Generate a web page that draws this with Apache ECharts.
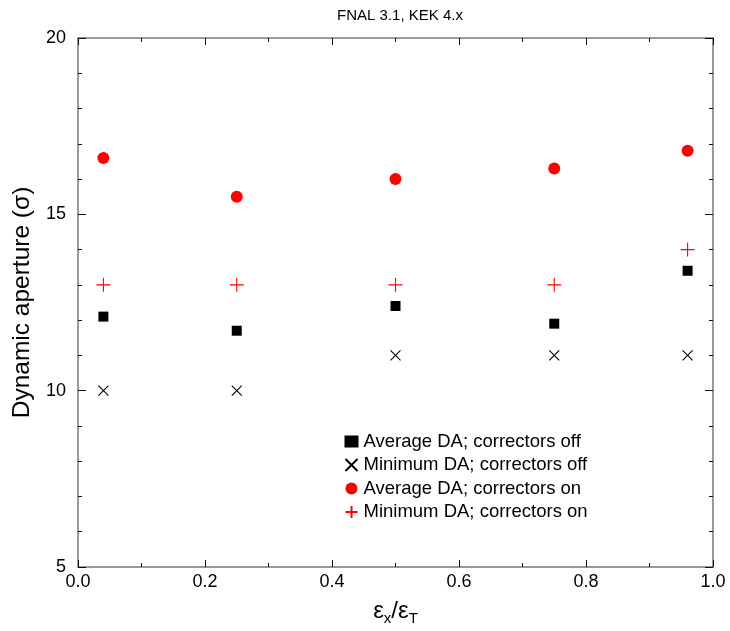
<!DOCTYPE html>
<html><head><meta charset="utf-8">
<script src="https://cdn.jsdelivr.net/npm/echarts@6/dist/echarts.min.js"></script>
<style>html,body{margin:0;padding:0;background:#fff}#c{width:730px;height:631px}</style>
</head><body><div id="c"></div>
<script>
const xValues = [0.04, 0.25, 0.5, 0.75, 0.96];
const avgOff = [12.1, 11.7, 12.4, 11.9, 13.4];
const minOff = [10, 10, 11, 11, 11];
const avgOn = [16.6, 15.5, 16.0, 16.3, 16.8];
const minOn = [13, 13, 13, 13, 14];
const seriesNames = ['Average DA; correctors off','Minimum DA; correctors off','Average DA; correctors on','Minimum DA; correctors on'];

const pair = v => xValues.map((x,i)=>[x, v[i]]);
const FONT = 'Liberation Sans, Arial, sans-serif';
const axisCol = '#777';
const chart = echarts.init(document.getElementById('c'));
const crossPath = 'path://M0,0L10,10M10,0L0,10';
const plusPath = 'path://M5,0L5,10M0,5L10,5';
const baseX = {min:0, max:1, interval:0.2, splitLine:{show:false},
  axisLine:{onZero:false, lineStyle:{color:axisCol, width:1.5}},
  axisTick:{inside:true, length:7, lineStyle:{color:'#111'}},
  minorTick:{show:true, splitNumber:2, length:4, lineStyle:{color:'#111'}}};
const baseY = {min:5, max:20, interval:5, splitLine:{show:false},
  axisLine:{onZero:false, lineStyle:{color:axisCol, width:1.5}},
  axisTick:{inside:true, length:8, lineStyle:{color:'#111'}},
  minorTick:{show:true, splitNumber:5, length:4, lineStyle:{color:'#111'}}};
chart.setOption({
  animation:false,
  title:{text:'FNAL 3.1, KEK 4.x', left:395, top:3, textAlign:'center',
    textStyle:{fontFamily:FONT, fontSize:15, fontWeight:'normal', color:'#000'}},
  grid:{left:78, right:17, top:38, bottom:64},
  legend:{orient:'vertical', left:338, top:427, itemGap:4.5, itemWidth:14, itemHeight:12,
    data:seriesNames, textStyle:{fontFamily:FONT, fontSize:18.5, lineHeight:18, color:'#000'}},
  xAxis:[Object.assign({}, baseX, {type:'value', position:'bottom',
    axisLabel:{fontFamily:FONT, fontSize:18, color:'#000', margin:6, formatter:v=>v.toFixed(1)},
    name:'{e|ε}{s|x}{e|/ε}{s|T}', nameLocation:'middle', nameGap:30,
    nameTextStyle:{rich:{e:{fontFamily:FONT, fontSize:24, color:'#000'},
      s:{fontFamily:FONT, fontSize:15, color:'#000', verticalAlign:'bottom', padding:[14,0,0,0]}}}}),
    Object.assign({}, baseX, {type:'value', position:'top', axisLabel:{show:false}})],
  yAxis:[Object.assign({}, baseY, {type:'value', position:'left',
    axisLabel:{fontFamily:FONT, fontSize:18, color:'#000', margin:12},
    name:'Dynamic aperture (σ)', nameLocation:'middle', nameGap:38,
    nameTextStyle:{fontFamily:FONT, fontSize:24.5, color:'#000'}}),
    Object.assign({}, baseY, {type:'value', position:'right', axisLabel:{show:false}})],
  series:[
    {name:seriesNames[0], type:'scatter', symbol:'rect', symbolSize:10, data:pair(avgOff),
      itemStyle:{color:'#000', opacity:1}},
    {name:seriesNames[1], type:'scatter', symbol:crossPath, symbolSize:10, data:pair(minOff),
      itemStyle:{color:'none', borderColor:'#000', borderWidth:1.1, opacity:1}},
    {name:seriesNames[2], type:'scatter', symbol:'circle', symbolSize:12, data:pair(avgOn),
      itemStyle:{color:'#ff0000', opacity:1}},
    {name:seriesNames[3], type:'scatter', symbol:plusPath, symbolSize:14, data:pair(minOn),
      itemStyle:{color:'none', borderColor:'#ff0000', borderWidth:1.1, opacity:1}}
  ]
});
</script></body></html>
